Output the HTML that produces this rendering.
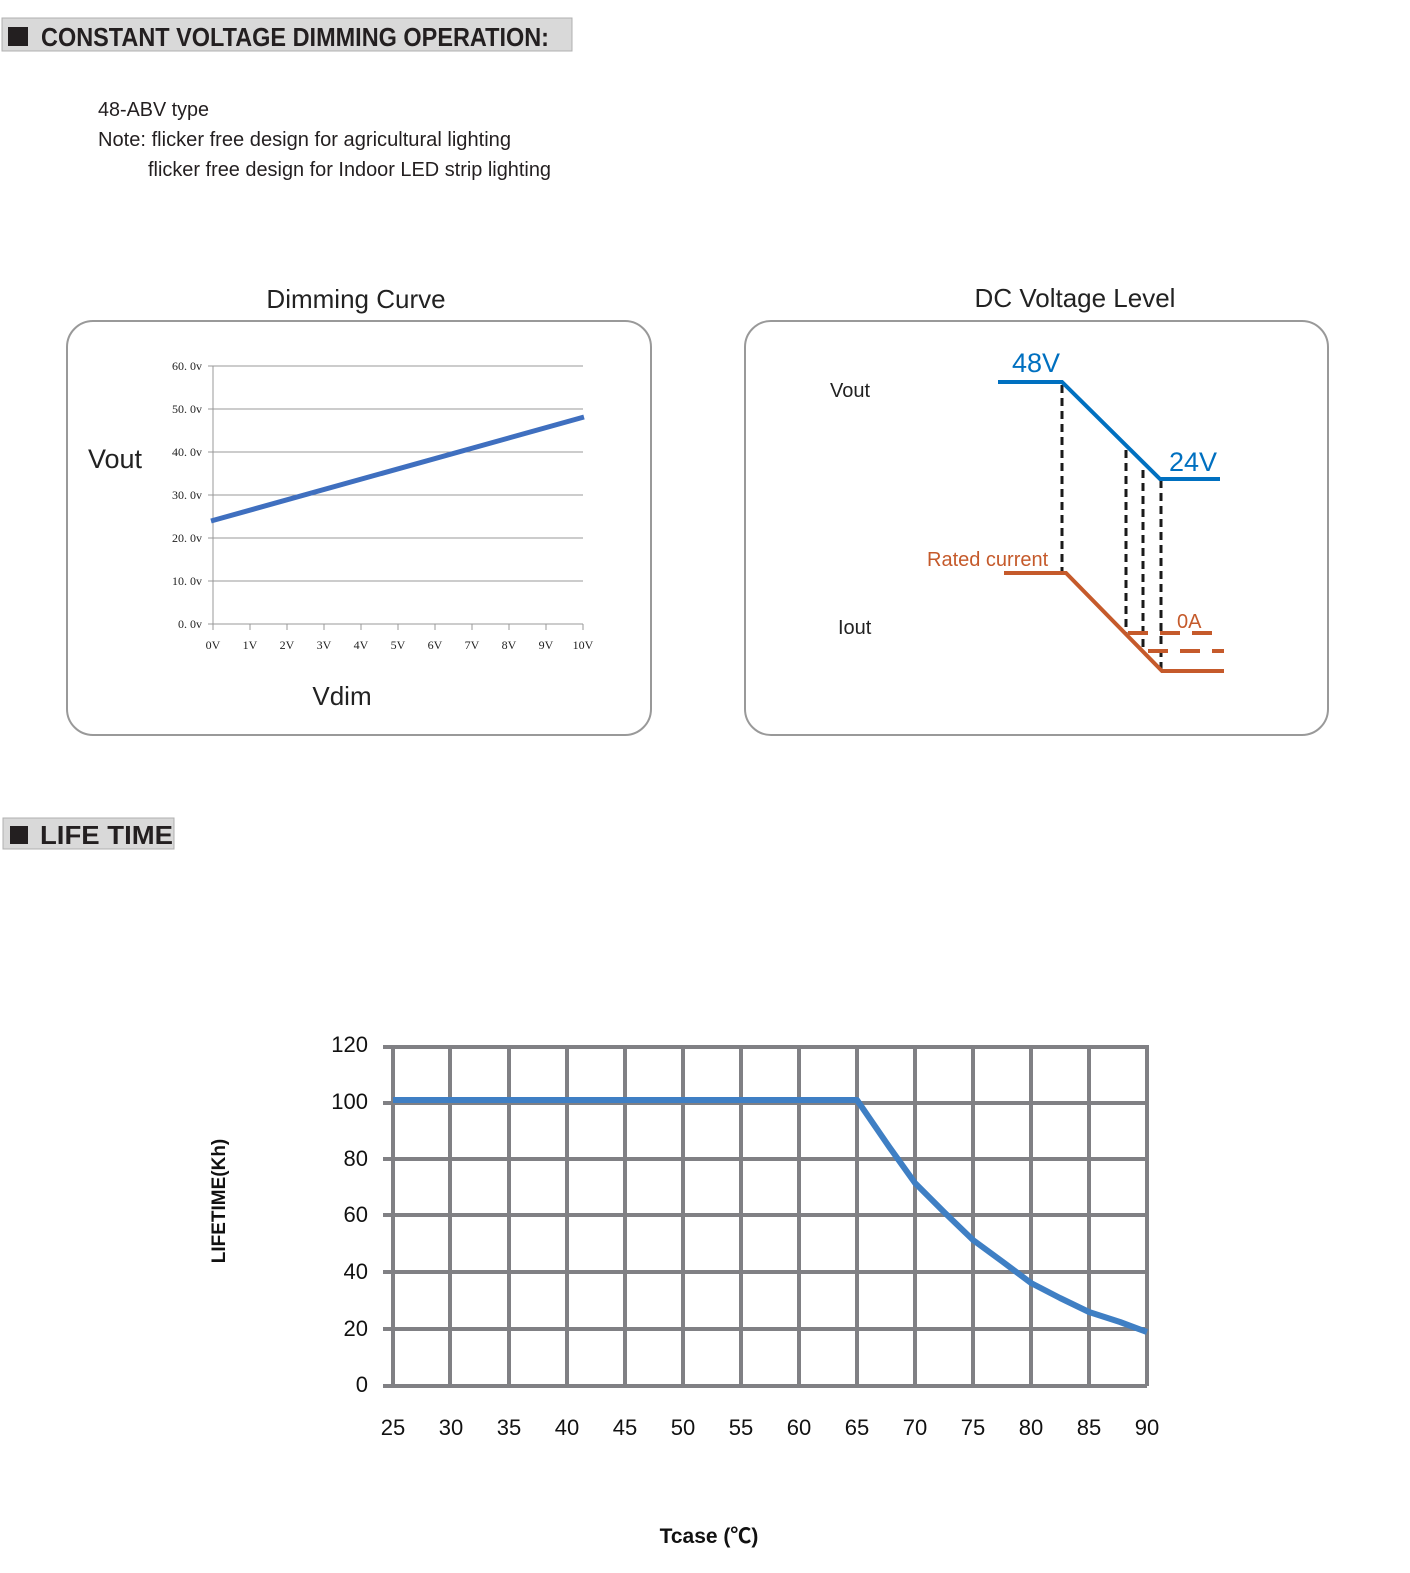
<!DOCTYPE html>
<html><head><meta charset="utf-8"><style>html,body{margin:0;padding:0;background:#fff}svg{display:block}</style></head>
<body>
<svg width="1410" height="1573" viewBox="0 0 1410 1573" xmlns="http://www.w3.org/2000/svg" font-family="Liberation Sans, DejaVu Sans, sans-serif">
<!-- Header 1 -->
<rect x="2" y="18" width="570" height="33" fill="#d9d9d9" stroke="#b0b0b0" stroke-width="1"/>
<rect x="8" y="27" width="20" height="19" fill="#231f20"/>
<text x="41" y="46" font-size="26" font-weight="bold" fill="#231f20" textLength="508" lengthAdjust="spacingAndGlyphs">CONSTANT VOLTAGE DIMMING OPERATION:</text>
<text x="98" y="116" font-size="20" fill="#231f20" textLength="111" lengthAdjust="spacingAndGlyphs">48-ABV type</text>
<text x="98" y="146" font-size="20" fill="#231f20" textLength="413" lengthAdjust="spacingAndGlyphs">Note: flicker free design for agricultural lighting</text>
<text x="148" y="176" font-size="20" fill="#231f20" textLength="403" lengthAdjust="spacingAndGlyphs">flicker free design for Indoor LED strip lighting</text>

<!-- Dimming curve -->
<text x="356" y="308" font-size="26" text-anchor="middle" fill="#222">Dimming Curve</text>
<rect x="67" y="321" width="584" height="414" rx="26" fill="#fff" stroke="#999" stroke-width="2"/>
<g stroke="#999" stroke-width="1">
<line x1="208" y1="366" x2="583" y2="366"/><line x1="208" y1="409" x2="583" y2="409"/><line x1="208" y1="452" x2="583" y2="452"/><line x1="208" y1="495" x2="583" y2="495"/><line x1="208" y1="538" x2="583" y2="538"/><line x1="208" y1="581" x2="583" y2="581"/><line x1="208" y1="624" x2="583" y2="624"/>
<line x1="213" y1="366" x2="213" y2="630"/>
<line x1="250" y1="624" x2="250" y2="630"/><line x1="287" y1="624" x2="287" y2="630"/><line x1="324" y1="624" x2="324" y2="630"/><line x1="361" y1="624" x2="361" y2="630"/><line x1="398" y1="624" x2="398" y2="630"/><line x1="435" y1="624" x2="435" y2="630"/><line x1="472" y1="624" x2="472" y2="630"/><line x1="509" y1="624" x2="509" y2="630"/><line x1="546" y1="624" x2="546" y2="630"/><line x1="583" y1="624" x2="583" y2="630"/>
</g>
<g font-family="Liberation Serif, DejaVu Serif, serif" font-size="12" fill="#222" text-anchor="end">
<text x="202" y="370">60. 0v</text><text x="202" y="413">50. 0v</text><text x="202" y="456">40. 0v</text><text x="202" y="499">30. 0v</text><text x="202" y="542">20. 0v</text><text x="202" y="585">10. 0v</text><text x="202" y="628">0. 0v</text>
</g>
<g font-family="Liberation Serif, DejaVu Serif, serif" font-size="12" fill="#222" text-anchor="middle">
<text x="213" y="649">0V</text><text x="250" y="649">1V</text><text x="287" y="649">2V</text><text x="324" y="649">3V</text><text x="361" y="649">4V</text><text x="398" y="649">5V</text><text x="435" y="649">6V</text><text x="472" y="649">7V</text><text x="509" y="649">8V</text><text x="546" y="649">9V</text><text x="583" y="649">10V</text>
</g>
<line x1="211" y1="521" x2="584" y2="417" stroke="#3f6fbf" stroke-width="5"/>
<text x="88" y="468" font-size="27" fill="#222">Vout</text>
<text x="342" y="705" font-size="26" fill="#222" text-anchor="middle">Vdim</text>

<!-- DC Voltage Level -->
<text x="1075" y="307" font-size="26" text-anchor="middle" fill="#222">DC Voltage Level</text>
<rect x="745" y="321" width="583" height="414" rx="26" fill="#fff" stroke="#999" stroke-width="2"/>
<text x="830" y="397" font-size="20" fill="#222">Vout</text>
<text x="838" y="634" font-size="20" fill="#222">Iout</text>
<g stroke="#1a1a1a" stroke-width="3" stroke-dasharray="8,5" fill="none">
<line x1="1062" y1="385" x2="1062" y2="573"/><line x1="1126" y1="450" x2="1126" y2="633"/><line x1="1143" y1="470" x2="1143" y2="651"/><line x1="1161" y1="480" x2="1161" y2="671"/>
</g>
<polyline points="998,382 1062,382 1160,479 1220,479" fill="none" stroke="#0070c0" stroke-width="4"/>
<polyline points="1004,573 1066,573 1162,671 1224,671" fill="none" stroke="#c55a2b" stroke-width="4"/>
<g stroke="#c55a2b" stroke-width="4" stroke-dasharray="20,12">
<line x1="1128" y1="633" x2="1214" y2="633"/><line x1="1148" y1="651" x2="1224" y2="651"/>
</g>
<text x="1012" y="372" font-size="27" fill="#0070c0">48V</text>
<text x="1169" y="471" font-size="27" fill="#0070c0">24V</text>
<text x="927" y="566" font-size="20" fill="#c55a2b">Rated current</text>
<text x="1177" y="628" font-size="20" fill="#c55a2b">0A</text>

<!-- Header 2 -->
<rect x="3" y="818" width="171" height="31" fill="#d9d9d9" stroke="#b0b0b0" stroke-width="1"/>
<rect x="10" y="826" width="18" height="18" fill="#231f20"/>
<text x="40" y="844" font-size="26" font-weight="bold" fill="#231f20" textLength="133" lengthAdjust="spacingAndGlyphs">LIFE TIME</text>

<!-- Lifetime chart -->
<g stroke="#808084" stroke-width="4">
<line x1="383" y1="1047" x2="1147" y2="1047"/><line x1="383" y1="1103" x2="1147" y2="1103"/><line x1="383" y1="1159" x2="1147" y2="1159"/><line x1="383" y1="1215" x2="1147" y2="1215"/><line x1="383" y1="1272" x2="1147" y2="1272"/><line x1="383" y1="1329" x2="1147" y2="1329"/><line x1="383" y1="1386" x2="1147" y2="1386"/>
<line x1="393" y1="1045" x2="393" y2="1386"/><line x1="450" y1="1045" x2="450" y2="1386"/><line x1="509" y1="1045" x2="509" y2="1386"/><line x1="567" y1="1045" x2="567" y2="1386"/><line x1="625" y1="1045" x2="625" y2="1386"/><line x1="683" y1="1045" x2="683" y2="1386"/><line x1="741" y1="1045" x2="741" y2="1386"/><line x1="799" y1="1045" x2="799" y2="1386"/><line x1="857" y1="1045" x2="857" y2="1386"/><line x1="915" y1="1045" x2="915" y2="1386"/><line x1="973" y1="1045" x2="973" y2="1386"/><line x1="1031" y1="1045" x2="1031" y2="1386"/><line x1="1089" y1="1045" x2="1089" y2="1386"/><line x1="1147" y1="1045" x2="1147" y2="1386"/>
</g>
<polyline points="393,1100 857,1100 890,1148 915,1183 945,1213 973,1240 1003,1262 1031,1283 1060,1298 1089,1312 1120,1322 1147,1332" fill="none" stroke="#3f7fc4" stroke-width="6" stroke-linejoin="round"/>
<g font-size="22" fill="#111" text-anchor="end">
<text x="368" y="1052">120</text><text x="368" y="1109">100</text><text x="368" y="1166">80</text><text x="368" y="1222">60</text><text x="368" y="1279">40</text><text x="368" y="1336">20</text><text x="368" y="1392">0</text>
</g>
<g font-size="22" fill="#111" text-anchor="middle">
<text x="393" y="1435">25</text><text x="451" y="1435">30</text><text x="509" y="1435">35</text><text x="567" y="1435">40</text><text x="625" y="1435">45</text><text x="683" y="1435">50</text><text x="741" y="1435">55</text><text x="799" y="1435">60</text><text x="857" y="1435">65</text><text x="915" y="1435">70</text><text x="973" y="1435">75</text><text x="1031" y="1435">80</text><text x="1089" y="1435">85</text><text x="1147" y="1435">90</text>
</g>
<text transform="translate(225,1201) rotate(-90)" font-size="19" font-weight="bold" fill="#111" text-anchor="middle">LIFETIME(Kh)</text>
<text x="709" y="1543" font-size="21" font-weight="bold" fill="#111" text-anchor="middle" font-family="Liberation Sans, Noto Sans CJK SC, sans-serif">Tcase (℃)</text>
</svg>
</body></html>
